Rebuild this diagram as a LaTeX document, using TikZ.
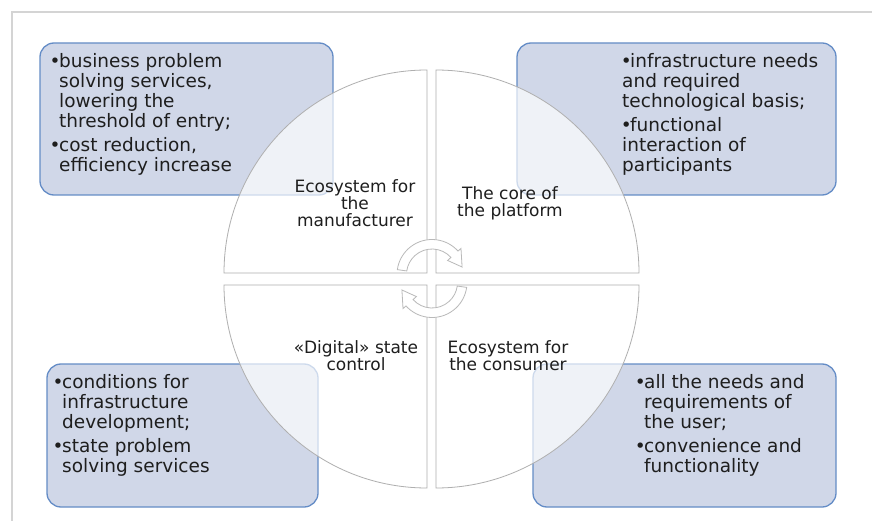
\documentclass[tikz,border=0pt]{standalone}
\usepackage{fontspec}
\setmainfont{DejaVu Sans}
\definecolor{boxblue}{RGB}{100,140,198}
\definecolor{boxfill}{RGB}{208,215,232}
\definecolor{framegray}{RGB}{212,212,212}
\definecolor{quadgray}{RGB}{175,175,175}
\definecolor{arrowgray}{RGB}{185,185,185}
\definecolor{txt}{RGB}{30,30,30}
\newcommand\bul{\makebox[8pt][c]{•}}
\newcommand\ind{\hspace*{8pt}}
\newcommand\clines[1]{\vtop{\baselineskip=17pt\halign{\hfil##\hfil\cr#1\crcr}}}
\newcommand\blines[1]{\vtop{\baselineskip=20pt\halign{##\hfil\cr#1\crcr}}}
\begin{document}
\begin{tikzpicture}[x=1pt,y=-1pt,
  framesty/.style={draw=framegray, line width=2pt},
  infobox/.style={draw=boxblue, line width=1.3pt, rounded corners=14pt, fill=boxfill},
  quad/.style={draw=quadgray, line width=0.8pt, fill=white, fill opacity=0.68},
  cyclearrow/.style={draw=arrowgray, line width=0.8pt, fill=white},
  boxtext/.style={anchor=base west, inner sep=0pt, text=txt, font=\fontsize{18.5}{20}\selectfont},
  quadtext/.style={anchor=base, inner sep=0pt, text=txt, font=\fontsize{17}{17}\selectfont}]
\useasboundingbox (0,0) rectangle (872,521);
\fill[white] (0,0) rectangle (872,521);
\draw[framesty] (872,12) -- (12,12) -- (12,521);

% boxes
\draw[infobox] (40,43) rectangle (333,195);
\draw[infobox] (517,43) rectangle (836,195);
\draw[infobox] (47,364) rectangle (318,507);
\draw[infobox] (533,364) rectangle (836,507);

% quadrants
\path[quad] (427,273) -- (224,273) arc[start angle=180, end angle=270, radius=203] -- cycle;
\path[quad] (436,273) -- (436,70) arc[start angle=270, end angle=360, radius=203] -- cycle;
\path[quad] (427,285) -- (224,285) arc[start angle=180, end angle=90, radius=203] -- cycle;
\path[quad] (436,285) -- (639,285) arc[start angle=0, end angle=90, radius=203] -- cycle;

% cycle arrows
\begin{scope}[shift={(432,278.5)}, yscale=-1]
  \begin{scope}[shift={(0,4)}]
    \path[cyclearrow] (172:35) arc[start angle=172, end angle=42, radius=35]
      -- (42:39) -- (14:31) -- (42:21) -- (42:25.5)
      arc[start angle=42, end angle=172, radius=25.5] -- cycle;
  \end{scope}
  \begin{scope}[rotate=180, shift={(0,4)}]
    \path[cyclearrow] (172:35) arc[start angle=172, end angle=42, radius=35]
      -- (42:39) -- (14:31) -- (42:21) -- (42:25.5)
      arc[start angle=42, end angle=172, radius=25.5] -- cycle;
  \end{scope}
\end{scope}

% box texts
\node[boxtext] (t1) at (51,68) {\blines{\bul business problem\cr
  \ind solving services,\cr
  \ind lowering the\cr
  \ind threshold of entry;\cr\noalign{\vskip4pt}
  \bul cost reduction,\cr
  \ind efficiency increase}};
\node[boxtext] (t2) at (622,68) {\blines{\bul infrastructure needs\cr
  and required\cr
  technological basis;\cr\noalign{\vskip4pt}
  \bul functional\cr
  interaction of\cr
  participants}};
\node[boxtext] (t3) at (54,388) {\blines{\bul conditions for\cr
  \ind infrastructure\cr
  \ind development;\cr\noalign{\vskip4pt}
  \bul state problem\cr
  \ind solving services}};
\node[boxtext] (t4) at (636,388) {\blines{\bul all the needs and\cr
  \ind requirements of\cr
  \ind the user;\cr\noalign{\vskip4pt}
  \bul convenience and\cr
  \ind functionality}};

% quadrant labels
\node[quadtext] (q1) at (355,193) {\clines{Ecosystem for\cr the\cr manufacturer}};
\node[quadtext] (q2) at (510,200) {\clines{The core of\cr the platform}};
\node[quadtext] (q3) at (356,353) {\clines{«Digital» state\cr control}};
\node[quadtext] (q4) at (508,353) {\clines{Ecosystem for\cr the consumer}};
\end{tikzpicture}
\end{document}
